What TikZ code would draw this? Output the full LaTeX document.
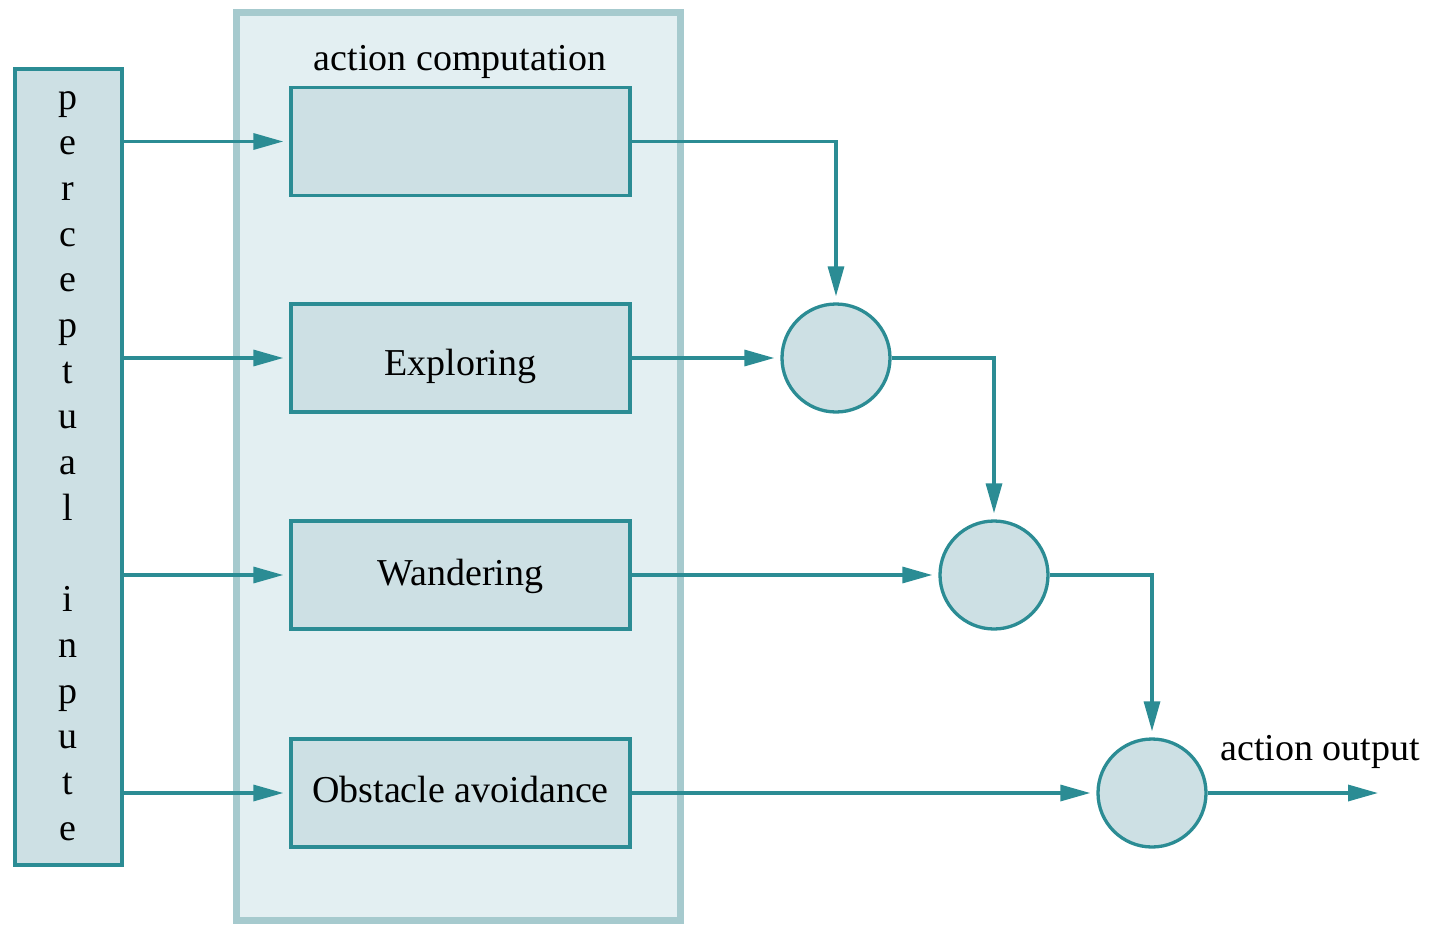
\documentclass[tikz,border=0pt]{standalone}
\usepackage{fontspec}
\setmainfont{Liberation Serif}
\usetikzlibrary{arrows.meta}
\definecolor{teal}{HTML}{2B8C94}
\definecolor{boxfill}{HTML}{CDE0E4}
\definecolor{contfill}{HTML}{E3EFF2}
\definecolor{contline}{HTML}{A6CACE}
\tikzset{
  blk/.style={draw=teal, fill=boxfill, line width=3.3pt, inner sep=0pt, minimum width=339pt, minimum height=108pt},
  junc/.style={circle, draw=teal, fill=boxfill, line width=3.3pt, inner sep=0pt, minimum size=108pt},
  conn/.style={draw=teal, line width=3.3pt, -{Triangle[length=30pt,width=16pt]}, shorten >=6pt},
  lbl/.style={inner sep=0pt, anchor=base, font=\fontsize{38}{40}\selectfont},
  txt/.style={inner sep=0pt, font=\fontsize{38}{40}\selectfont},
}
\begin{document}
\begin{tikzpicture}[x=1pt, y=-1pt]
\useasboundingbox (0,0) rectangle (1429,924);
% container
\node[draw=contline, fill=contfill, line width=7pt, minimum width=444pt, minimum height=908pt, inner sep=0pt] (cont) at (458,466) {};
\node[lbl] (title) at (460,70) {action computation};
% perceptual input
\node[draw=teal, fill=boxfill, line width=3.3pt, minimum width=107pt, minimum height=796pt, inner sep=0pt] (pin) at (68.5,467) {};
\foreach \ch [count=\i] in {p,e,r,c,e,p,t,u,a,l,{},i,n,p,u,t,e} {
  \node[lbl] (L\i) at (68, 109+45.7*\i-45.7) {\ch};
}
% boxes
\node[blk] (b1) at (460.5,141.5) {};
\node[blk] (b2) at (460.5,358) {};
\node[blk] (b3) at (460.5,575) {};
\node[blk] (b4) at (460.5,793) {};
\node[txt] (t2) at (460.5,366.5) {Exploring};
\node[txt] (t3) at (460.5,576.5) {Wandering};
\node[txt] (t4) at (460.5,789) {Obstacle avoidance};
% junctions
\node[junc] (c1) at (836,358) {};
\node[junc] (c2) at (994,575) {};
\node[junc] (c3) at (1152,793) {};
\coordinate (out) at (1378,793);
\node[lbl] (outlbl) at (1320,760) {action output};
% inputs
\foreach \b in {b1,b2,b3,b4} {
  \draw[conn] (pin.east |- \b) -- (\b.west);
}
% outputs
\draw[conn] (b1.east) -| (c1.north);
\draw[conn] (b2.east) -- (c1.west);
\draw[conn] (c1.east) -| (c2.north);
\draw[conn] (b3.east) -- (c2.west);
\draw[conn] (c2.east) -| (c3.north);
\draw[conn] (b4.east) -- (c3.west);
\draw[conn, shorten >=0pt] (c3.east) -- (out);
\end{tikzpicture}
\end{document}
